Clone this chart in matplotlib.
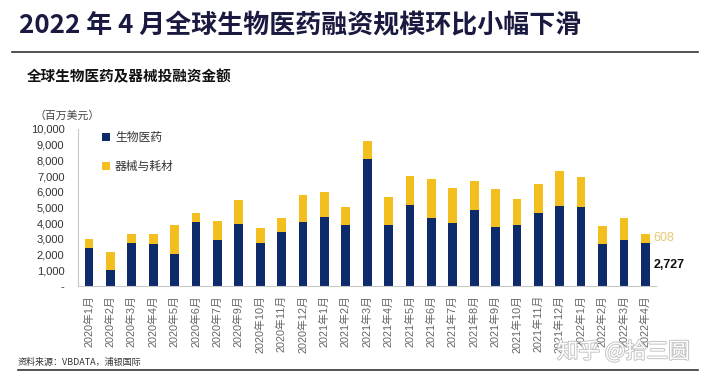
import matplotlib
matplotlib.use("Agg")
import matplotlib.pyplot as plt
from matplotlib.lines import Line2D
from matplotlib.ticker import FuncFormatter, MultipleLocator
import matplotlib.patheffects as pe

plt.rcParams['font.family'] = ['Liberation Sans', 'Noto Sans CJK SC', 'DejaVu Sans']

# ---- data ----
months = ["2020年1月", "2020年2月", "2020年3月", "2020年4月", "2020年5月", "2020年6月",
          "2020年7月", "2020年9月", "2020年10月", "2020年11月", "2020年12月",
          "2021年1月", "2021年2月", "2021年3月", "2021年4月", "2021年5月", "2021年6月",
          "2021年7月", "2021年8月", "2021年9月", "2021年10月", "2021年11月", "2021年12月",
          "2022年1月", "2022年2月", "2022年3月", "2022年4月"]
biopharma = [2430, 1000, 2720, 2660, 2040, 4060, 2920, 3940, 2720, 3430, 4060,
             4380, 3910, 8090, 3870, 5170, 4340, 4020, 4850, 3770, 3890, 4680, 5090,
             5040, 2660, 2940, 2727]
devices = [570, 1150, 580, 640, 1830, 620, 1210, 1510, 1000, 870, 1750,
           1600, 1150, 1120, 1790, 1850, 2470, 2210, 1830, 2420, 1680, 1790, 2230,
           1900, 1190, 1420, 608]
series_names = ["生物医药", "器械与耗材"]

NAVY = "#0D2B6B"
GOLD = "#F2BF1F"

W, H = 706, 380
fig = plt.figure(figsize=(W / 100, H / 100), dpi=100)

def fx(px):
    return px / W

def fy(py):
    return 1 - py / H

# title
fig.text(fx(19), fy(26), "2022 年 4 月全球生物医药融资规模环比小幅下滑",
         fontsize=18.7, fontweight="bold", color="#1a1a40", va="center", ha="left",
         family=["Noto Sans CJK SC"])
fig.add_artist(Line2D([fx(12), fx(698)], [fy(52), fy(52)], color="#333333", lw=1.2))
fig.text(fx(27), fy(76), "全球生物医药及器械投融资金额", fontsize=10.5, fontweight="bold",
         color="#111111", va="center", ha="left", family=["Noto Sans CJK SC"])
fig.text(fx(34), fy(116), "（百万美元）", fontsize=7.8, color="#444444", va="center", ha="left",
         family=["Noto Sans CJK SC"])

# axes
ax_left, ax_right, ax_bottom, ax_top = 78.3, 656, 286, 129
ax = fig.add_axes([fx(ax_left), 1 - ax_bottom / H, (ax_right - ax_left) / W, (ax_bottom - ax_top) / H])
x = list(range(len(months)))
b1 = ax.bar(x, biopharma, width=0.41, color=NAVY, label=series_names[0], zorder=2)
b2 = ax.bar(x, devices, width=0.41, bottom=biopharma, color=GOLD, label=series_names[1], zorder=2)
ax.set_xlim(-0.5, len(months) - 0.5)
ax.set_ylim(0, 10000)
ax.yaxis.set_major_locator(MultipleLocator(1000))
ax.yaxis.set_major_formatter(FuncFormatter(lambda v, p: "-" if v == 0 else f"{int(v):,}"))
ax.set_xticks(x)
ax.set_xticklabels(months, rotation=90, va="top", ha="center")
ax.tick_params(axis="y", length=0, pad=10, labelsize=8, labelcolor="#333333")
ax.tick_params(axis="x", length=0, pad=6.5, labelsize=7.8, labelcolor="#666666")
for lab in ax.get_xticklabels():
    lab.set_family(["Liberation Sans", "Noto Sans CJK SC"])
for s in ["top", "right"]:
    ax.spines[s].set_visible(False)
ax.spines["left"].set_color("#c8c8c8")
ax.spines["bottom"].set_color("#c8c8c8")
ax.spines["left"].set_linewidth(0.8)
ax.spines["bottom"].set_linewidth(0.8)

# last-bar annotations
last = len(months) - 1
ax.annotate(f"{devices[last]:,}", xy=(last + 0.2, biopharma[last] + devices[last] / 2),
            xytext=(4, 0), textcoords="offset pixels", va="center", ha="left",
            fontsize=9, color="#E6C86E")
ax.annotate(f"{biopharma[last]:,}", xy=(last + 0.2, biopharma[last] / 2),
            xytext=(4, 0), textcoords="offset pixels", va="center", ha="left",
            fontsize=9, fontweight="bold", color="#111111")

# legend
leg = ax.legend(handles=[b1, b2], loc="upper left", bbox_to_anchor=(fx(102), fy(131)),
                bbox_transform=fig.transFigure, frameon=False, borderpad=0, borderaxespad=0,
                handlelength=0.65, handleheight=0.65, handletextpad=0.45, labelspacing=1.35,
                prop={"family": ["Noto Sans CJK SC"], "size": 8.5})
for t in leg.get_texts():
    t.set_color("#333333")

# source and bottom rule
fig.text(fx(18), fy(362), "资料来源：VBDATA，浦银国际", fontsize=6.5, color="#333333",
         va="center", ha="left", family=["Noto Sans CJK SC"])
fig.add_artist(Line2D([fx(18), fx(698)], [fy(369.5), fy(369.5)], color="#333333", lw=1.2))

# watermark
fig.text(fx(557), fy(352), "知乎 @拾三圆", fontsize=15.5, color="white", va="center", ha="left",
         family=["Noto Sans CJK SC"], zorder=10,
         path_effects=[pe.withStroke(linewidth=1.4, foreground="#c4c4c4")])

fig.savefig("out.png", dpi=100)
